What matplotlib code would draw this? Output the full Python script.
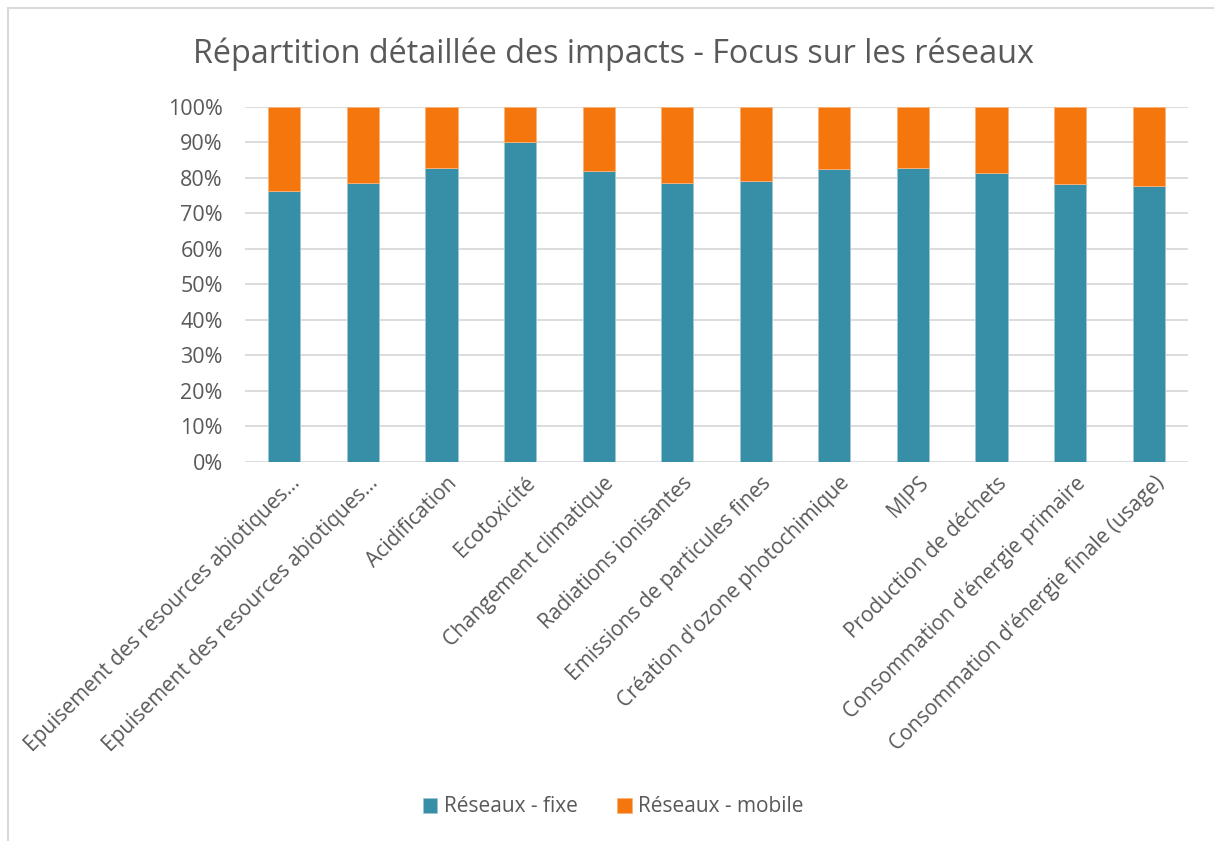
import numpy as np
import matplotlib.pyplot as plt
from matplotlib.ticker import PercentFormatter
from matplotlib.patches import Rectangle
from matplotlib.transforms import ScaledTranslation

plt.rcParams['font.family'] = ['Open Sans', 'DejaVu Sans']

categories = ['Epuisement des resources abiotiques...',
              'Epuisement des resources abiotiques...',
              'Acidification',
              'Ecotoxicité',
              'Changement climatique',
              'Radiations ionisantes',
              'Emissions de particules fines',
              "Création d'ozone photochimique",
              'MIPS',
              'Production de déchets',
              "Consommation d'énergie primaire",
              "Consommation d'énergie finale (usage)"]

# part du fixe en %, le mobile complète jusqu'à 100
fixe = [76.3, 78.4, 82.6, 90.0, 81.8, 78.6, 79.0, 82.5, 82.6, 81.2, 78.3, 77.6]
mobile = [100 - v for v in fixe]

c_fixe = '#378EA7'
c_mobile = '#F4760D'
gris = '#595959'

fig = plt.figure(figsize=(12.14, 8.41), dpi=100)
ax = fig.add_axes([245/1214, 1 - 461.7/841, (1188-245)/1214, (461.7-106.7)/841])

x = np.arange(len(categories))
ax.bar(x, fixe, width=0.41, color=c_fixe, edgecolor='#9FC6D3', linewidth=0.6,
       label='Réseaux - fixe', zorder=3)
ax.bar(x, mobile, bottom=fixe, width=0.41, color=c_mobile, edgecolor='#F8B37A',
       linewidth=0.6, label='Réseaux - mobile', zorder=3)

ax.set_xlim(-0.5, len(categories) - 0.5)
ax.set_ylim(0, 100)
ax.set_yticks(np.arange(0, 101, 10))
ax.yaxis.set_major_formatter(PercentFormatter(decimals=0))
ax.grid(axis='y', color='#D9D9D9', linewidth=1.3, zorder=0)
for s in ax.spines.values():
    s.set_visible(False)
ax.tick_params(length=0, labelsize=15.5, colors=gris)
ax.tick_params(axis='y', pad=16)
ax.set_xticks(x)
ax.set_xticklabels(categories, rotation=45, ha='right', rotation_mode='anchor',
                   fontsize=15)
ax.tick_params(axis='x', pad=8)
decal = ScaledTranslation(5/100, 0, fig.dpi_scale_trans)
for lab in ax.get_xticklabels():
    lab.set_transform(lab.get_transform() + decal)

fig.text(0.505, 1 - 54/841, 'Répartition détaillée des impacts - Focus sur les réseaux',
         fontsize=23.3, color=gris, ha='center', va='center')

fig.legend(loc='center', bbox_to_anchor=(0.505, 1 - 807/841), ncol=2, frameon=False,
           fontsize=15, labelcolor=gris, handlelength=0.7, handleheight=0.7,
           handletextpad=0.3, columnspacing=1.9)

# cadre du graphique (coupé à droite et en bas)
fig.patches.append(Rectangle((8/1214, -0.05), 1.2, 1 - 8/841 + 0.05,
                             transform=fig.transFigure, fill=False,
                             edgecolor='#D9D9D9', linewidth=1.5))

fig.savefig('out.png', dpi=100)
